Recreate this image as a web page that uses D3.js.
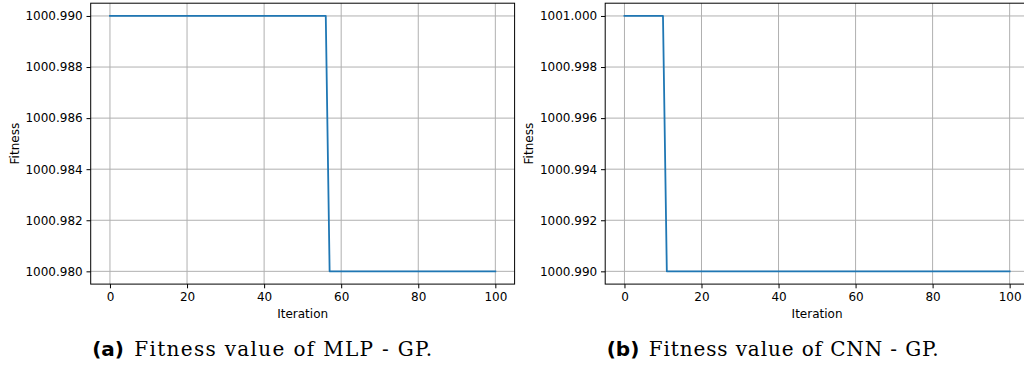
<!DOCTYPE html>
<html>
<head>
<meta charset="utf-8">
<script src="https://cdn.jsdelivr.net/npm/d3@7"></script>
<style>
  body { margin: 0; background: #fff; }
  svg { display: block; }
</style>
</head>
<body>
<div id="chart"></div>
<script>
// Fitness per iteration, drawn as step breakpoints
var mlpIter = [0, 56, 57, 100];
var mlpFitness = [1000.990, 1000.990, 1000.980, 1000.980];
var cnnIter = [0, 10, 11, 100];
var cnnFitness = [1001.000, 1001.000, 1000.990, 1000.990];

var xTicks = [0, 20, 40, 60, 80, 100];
var mlpYTicks = [1000.980, 1000.982, 1000.984, 1000.986, 1000.988, 1000.990];
var cnnYTicks = [1000.990, 1000.992, 1000.994, 1000.996, 1000.998, 1001.000];

var captions = [
    { tag: "(a)", text: "Fitness value of MLP - GP.", len: 298 },
    { tag: "(b)", text: "Fitness value of CNN - GP.", len: 290 }
];

var width = 1024;
var height = 367;

var svg = d3.select('#chart')
    .append('svg')
    .attr('width', width)
    .attr('height', height);

var plotTop = 3.2;
var plotBottom = 284.1;

function drawPanel(left, right, iters, values, yTicks, cap) {
    var xscale = d3.scaleLinear()
        .domain([-5, 105])
        .range([left, right]);

    var ymin = d3.min(values), ymax = d3.max(values);
    var pad = (ymax - ymin) * 0.05;
    var yscale = d3.scaleLinear()
        .domain([ymin - pad, ymax + pad])
        .range([plotBottom, plotTop]);

    var g = svg.append('g');

    // grid
    g.selectAll('.vgrid')
        .data(xTicks)
        .enter()
        .append('line')
        .attr('x1', d => xscale(d))
        .attr('x2', d => xscale(d))
        .attr('y1', plotTop)
        .attr('y2', plotBottom)
        .attr('stroke', '#b0b0b0')
        .attr('stroke-width', 1);

    g.selectAll('.hgrid')
        .data(yTicks)
        .enter()
        .append('line')
        .attr('x1', left)
        .attr('x2', right)
        .attr('y1', d => yscale(d))
        .attr('y2', d => yscale(d))
        .attr('stroke', '#b0b0b0')
        .attr('stroke-width', 1);

    // data line
    var pts = iters.map((d, i) => [d, values[i]]);
    var line = d3.line()
        .x(d => xscale(d[0]))
        .y(d => yscale(d[1]));

    g.append('path')
        .datum(pts)
        .attr('d', line)
        .attr('fill', 'none')
        .attr('stroke', '#1f77b4')
        .attr('stroke-width', 1.8)
        .attr('stroke-linejoin', 'round')
        .attr('stroke-linecap', 'square');

    // frame
    g.append('rect')
        .attr('x', left)
        .attr('y', plotTop)
        .attr('width', right - left)
        .attr('height', plotBottom - plotTop)
        .attr('fill', 'none')
        .attr('stroke', '#000')
        .attr('stroke-width', 1);

    var xaxis = d3.axisBottom(xscale)
        .tickValues(xTicks)
        .tickSize(4.2)
        .tickPadding(4)
        .tickFormat(d3.format('d'));

    var yaxis = d3.axisLeft(yscale)
        .tickValues(yTicks)
        .tickSize(4.2)
        .tickPadding(3.8)
        .tickFormat(d3.format('.3f'));

    var gx = g.append('g')
        .attr('transform', 'translate(0,' + plotBottom + ')')
        .call(xaxis);
    var gy = g.append('g')
        .attr('transform', 'translate(' + left + ',0)')
        .call(yaxis);

    [gx, gy].forEach(function (ax) {
        ax.select('.domain').remove();
        ax.selectAll('text')
            .attr('fill', '#000')
            .style('font-family', 'DejaVu Sans')
            .style('font-size', '12px');
        ax.selectAll('line').attr('stroke', '#000').attr('stroke-width', 1);
    });

    g.append('text')
        .attr('x', (left + right) / 2)
        .attr('y', 318)
        .attr('text-anchor', 'middle')
        .style('font-family', 'DejaVu Sans')
        .style('font-size', '12px')
        .text('Iteration');

    g.append('text')
        .attr('transform', 'translate(' + (left - 72) + ',' + ((plotTop + plotBottom) / 2) + ') rotate(-90)')
        .attr('text-anchor', 'middle')
        .style('font-family', 'DejaVu Sans')
        .style('font-size', '12px')
        .text('Fitness');

    // caption
    g.append('text')
        .attr('x', left + 1.5)
        .attr('y', 356)
        .style('font-family', 'DejaVu Sans')
        .style('font-weight', 'bold')
        .style('font-size', '20px')
        .text(cap.tag);

    g.append('text')
        .attr('x', left + 43.5)
        .attr('y', 356)
        .attr('textLength', cap.len)
        .attr('lengthAdjust', 'spacing')
        .style('font-family', 'DejaVu Serif')
        .style('font-size', '20px')
        .text(cap.text);
}

drawPanel(90.7, 514.6, mlpIter, mlpFitness, mlpYTicks, captions[0]);
drawPanel(605.2, 1028.9, cnnIter, cnnFitness, cnnYTicks, captions[1]);
</script>
</body>
</html>
